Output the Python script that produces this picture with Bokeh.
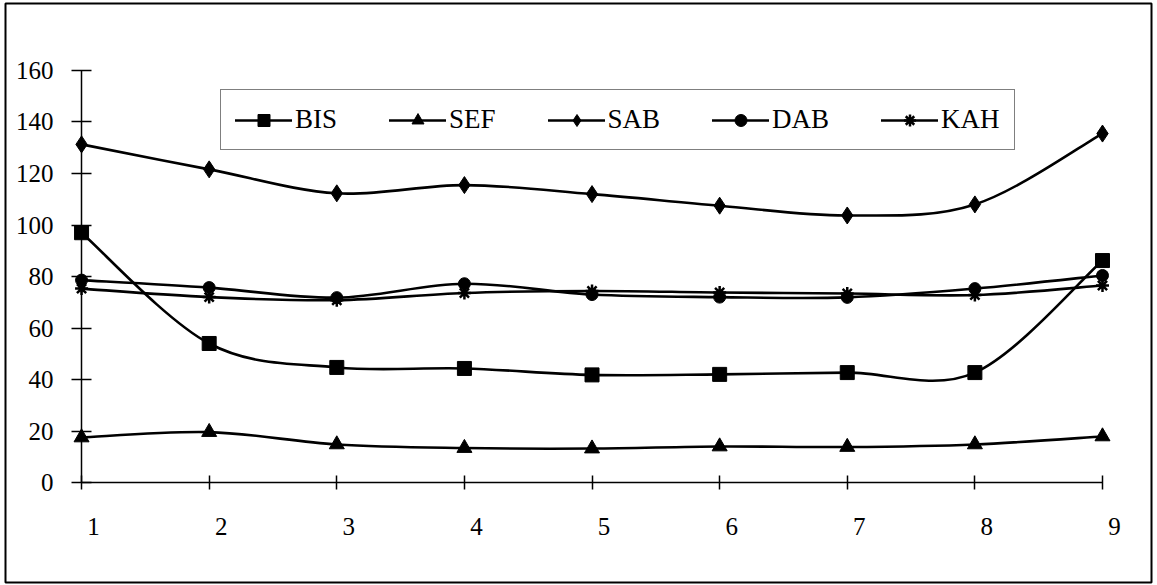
from bokeh.plotting import figure
from bokeh.models import (Range1d, LinearAxis, FixedTicker, CustomJSTickFormatter,
                          Legend, LegendItem)
from bokeh.embed import file_html
from bokeh.resources import INLINE

# Measurement points 1..9 and the five series
xs = [1, 2, 3, 4, 5, 6, 7, 8, 9]
bis = [97.0, 54.0, 44.7, 44.3, 41.8, 42.0, 42.7, 42.7, 86.2]
sef = [17.5, 19.6, 14.8, 13.4, 13.2, 14.0, 13.8, 14.8, 17.9]
sab = [131.3, 121.6, 112.3, 115.5, 112.0, 107.5, 103.7, 108.0, 135.5]
dab = [78.6, 75.7, 71.8, 77.2, 73.0, 72.0, 71.9, 75.3, 80.4]
kah = [75.3, 72.0, 70.8, 73.6, 74.4, 73.8, 73.4, 72.8, 76.5]
y_ticks = [0, 20, 40, 60, 80, 100, 120, 140, 160]

FONT = "Liberation Serif"


def smooth_segments(x, y):
    """Cubic Bezier segments (Catmull-Rom style) through the given points."""
    n = len(x)
    seg = dict(x0=[], y0=[], x1=[], y1=[], cx0=[], cy0=[], cx1=[], cy1=[])
    for i in range(n - 1):
        a = i - 1 if i > 0 else i
        d = i + 2 if i + 2 < n else i + 1
        seg["x0"].append(x[i]); seg["y0"].append(y[i])
        seg["x1"].append(x[i + 1]); seg["y1"].append(y[i + 1])
        seg["cx0"].append(x[i] + (x[i + 1] - x[a]) / 6.0)
        seg["cy0"].append(y[i] + (y[i + 1] - y[a]) / 6.0)
        seg["cx1"].append(x[i + 1] - (x[d] - x[i]) / 6.0)
        seg["cy1"].append(y[i + 1] - (y[d] - y[i]) / 6.0)
    return seg


p = figure(width=1157, height=585,
           x_range=Range1d(0.404, 9.384), y_range=Range1d(-38.8, 186.0),
           x_axis_type=None, y_axis_type=None,
           output_backend="svg", toolbar_location=None,
           min_border_left=5, min_border_right=6, min_border_top=3, min_border_bottom=3)
p.grid.visible = False
p.outline_line_color = "black"
p.outline_line_width = 2
p.background_fill_color = "white"
p.border_fill_color = "white"

# Value axis
yaxis = LinearAxis(fixed_location=1, ticker=FixedTicker(ticks=y_ticks), bounds=(0, 160))
yaxis.axis_line_width = 1.5
yaxis.major_tick_line_width = 1.5
yaxis.major_tick_in = 10
yaxis.major_tick_out = 10
yaxis.minor_tick_line_color = None
yaxis.major_label_standoff = 18
yaxis.major_label_text_font = FONT
yaxis.major_label_text_font_size = "25px"
yaxis.major_label_text_color = "black"
p.add_layout(yaxis, "left")

# Category axis: line and ticks (its own labels are not painted)
xaxis = LinearAxis(fixed_location=0, ticker=FixedTicker(ticks=xs), bounds=(1, 9))
xaxis.axis_line_width = 1.5
xaxis.major_tick_line_width = 1.5
xaxis.major_tick_in = 7
xaxis.major_tick_out = 7
xaxis.minor_tick_line_color = None
xaxis.major_label_text_color = None
p.add_layout(xaxis, "below")

# Category axis: labels, set slightly right of each tick
label_shift = 0.094
xlabels = LinearAxis(fixed_location=0,
                     ticker=FixedTicker(ticks=[x + label_shift for x in xs]),
                     formatter=CustomJSTickFormatter(args=dict(shift=label_shift),
                                                     code="return Math.round(tick - shift).toString()"))
xlabels.axis_line_color = None
xlabels.major_tick_line_color = None
xlabels.minor_tick_line_color = None
xlabels.major_tick_out = 7
xlabels.major_label_standoff = 28
xlabels.major_label_text_font = FONT
xlabels.major_label_text_font_size = "25px"
xlabels.major_label_text_color = "black"
p.add_layout(xlabels, "below")

series = [
    ("BIS", bis, "square", 14),
    ("SEF", sef, "triangle", 15),
    ("SAB", sab, "diamond", 17),
    ("DAB", dab, "circle", 12),
    ("KAH", kah, "asterisk", 13),
]

items = []
for name, ys, marker, size in series:
    seg = smooth_segments(xs, ys)
    br = p.bezier(x0=seg["x0"], y0=seg["y0"], x1=seg["x1"], y1=seg["y1"],
                  cx0=seg["cx0"], cy0=seg["cy0"], cx1=seg["cx1"], cy1=seg["cy1"],
                  line_color="black", line_width=2.6, line_cap="round")
    if marker == "asterisk":
        sr = p.scatter(xs, ys, marker=marker, size=size, line_color="black",
                       line_width=2.5, fill_color="black")
    else:
        sr = p.scatter(xs, ys, marker=marker, size=size, line_color="black",
                       fill_color="black")
    items.append(LegendItem(label=name, renderers=[br, sr]))

legend = Legend(items=items, orientation="horizontal", location=(215, 432))
legend.label_text_font = FONT
legend.label_text_font_size = "27px"
legend.label_text_color = "black"
legend.label_standoff = 3
legend.label_height = 30
legend.glyph_width = 57
legend.glyph_height = 30
legend.spacing = 52
legend.padding = 14
legend.margin = 0
legend.border_line_color = "black"
legend.border_line_width = 1.5
legend.background_fill_color = "white"
legend.background_fill_alpha = 1.0
p.add_layout(legend, "center")

open("out.html", "w").write(file_html(p, INLINE))
